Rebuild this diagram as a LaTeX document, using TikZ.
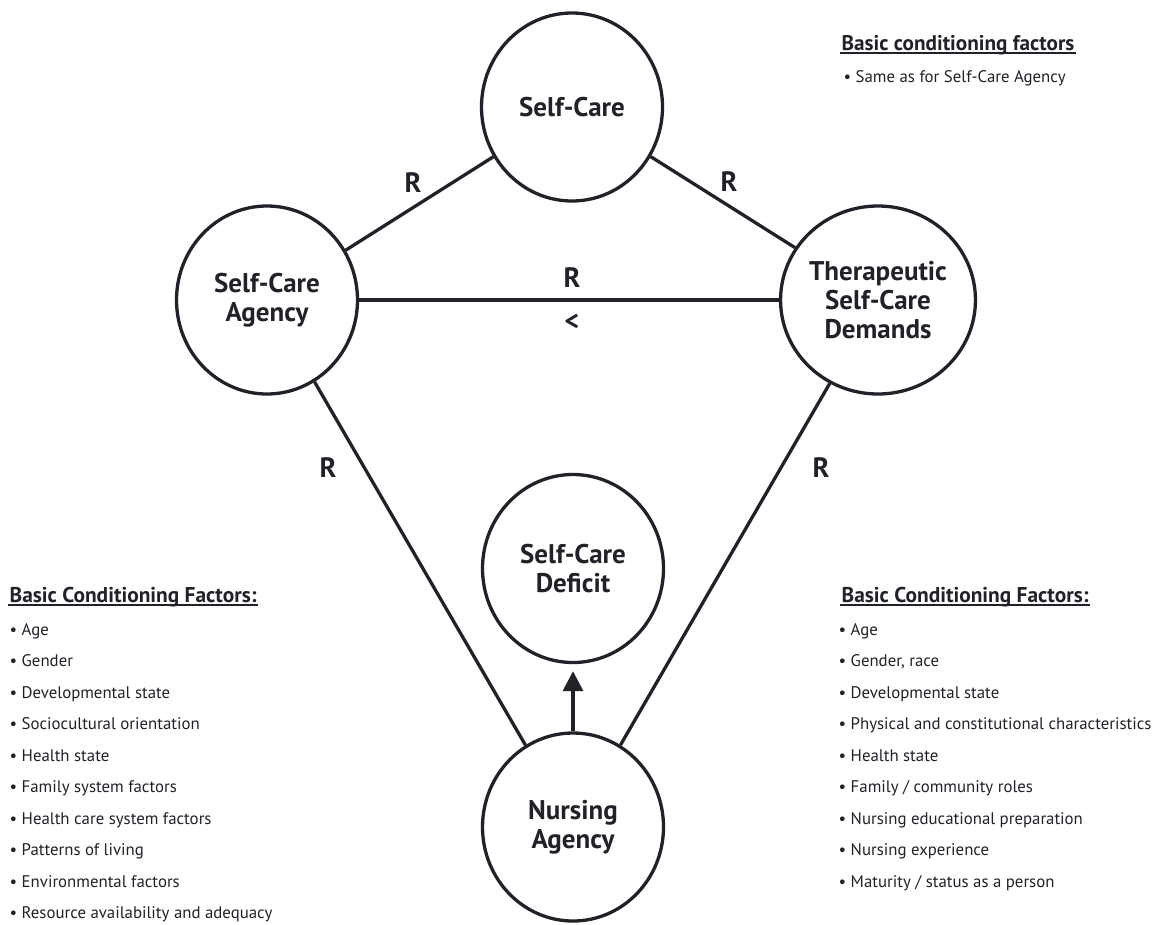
\documentclass[tikz,border=0pt]{standalone}
\usepackage{fontspec}
\setmainfont{PT Sans}
\usetikzlibrary{shapes.geometric,arrows.meta}
\definecolor{ink}{RGB}{35,32,40}

\begin{document}
\begin{tikzpicture}[x=1pt,y=-1pt,line width=3.3pt,color=ink,
  circ/.style={ellipse,draw,minimum width=181pt,minimum height=188pt,inner sep=0pt,
    align=center,font=\bfseries\fontsize{27}{29}\selectfont},
  rel/.style={inner sep=0pt,font=\bfseries\fontsize{28}{30}\selectfont},
  head/.style={anchor=base west,inner sep=0pt,font=\bfseries\fontsize{21.4}{26}\selectfont},
  smallhead/.style={anchor=base west,inner sep=0pt,font=\bfseries\fontsize{21.2}{24}\selectfont},
  item/.style={anchor=base west,inner sep=0pt,font=\fontsize{16.8}{20}\selectfont},
  uline/.style={line width=1.8pt}]
 \useasboundingbox (0,0) rectangle (1155,924);
 % concepts
 \node[circ] (sc)   at (572,107)   {Self-Care};
 \node[circ] (sca)  at (267,300)   {Self-Care\\Agency};
 \node[circ] (tscd) at (878,300)   {Therapeutic\\Self-Care\\Demands};
 \node[circ] (scd)  at (573,568.5) {Self-Care\\Deficit};
 \node[circ] (na)   at (573,827)   {Nursing\\Agency};
 % relations
 \draw (sc) -- (sca);
 \draw (sc) -- (tscd);
 \draw (sca) -- (tscd);
 \draw (sca) -- (na);
 \draw (tscd) -- (na);
 \draw[-{Triangle[width=20pt,length=20pt]},shorten >=7pt] (na) -- (scd);
 \node[rel] (rtl) at (413,183) {R};
 \node[rel] (rtr) at (729,182) {R};
 \node[rel] (rmid) at (572,278) {R};
 \node[rel] (less) at (572,322) {<};
 \node[rel] (rbl) at (328,468) {R};
 \node[rel] (rbr) at (821,468) {R};
 % basic conditioning factors
 \node[smallhead] (hsc) at (840,50) {Basic conditioning factors};
 \draw[uline] ([yshift=-3pt]hsc.base west) -- ([yshift=-3pt]hsc.base east);
 \node[item] (isc) at (842,82) {\textbullet\ Same as for Self-Care Agency};
 \node[head] (hsca) at (8,602) {Basic Conditioning Factors:};
 \draw[uline] ([yshift=-3pt]hsca.base west) -- ([yshift=-3pt]hsca.base east);
 \foreach \t [count=\i from 0] in {Age,Gender,Developmental state,Sociocultural orientation,
   Health state,Family system factors,Health care system factors,Patterns of living,
   Environmental factors,Resource availability and adequacy}
  \node[item] (isca\i) at (8,635+31.5*\i) {\textbullet\ \t};
 \node[head] (hna) at (840,602) {Basic Conditioning Factors:};
 \draw[uline] ([yshift=-3pt]hna.base west) -- ([yshift=-3pt]hna.base east);
 \foreach \t [count=\i from 0] in {Age,{Gender, race},Developmental state,
   Physical and constitutional characteristics,Health state,Family / community roles,
   Nursing educational preparation,Nursing experience,Maturity / status as a person}
  \node[item] (ina\i) at (837,635+31.5*\i) {\textbullet\ \t};
\end{tikzpicture}
\end{document}
